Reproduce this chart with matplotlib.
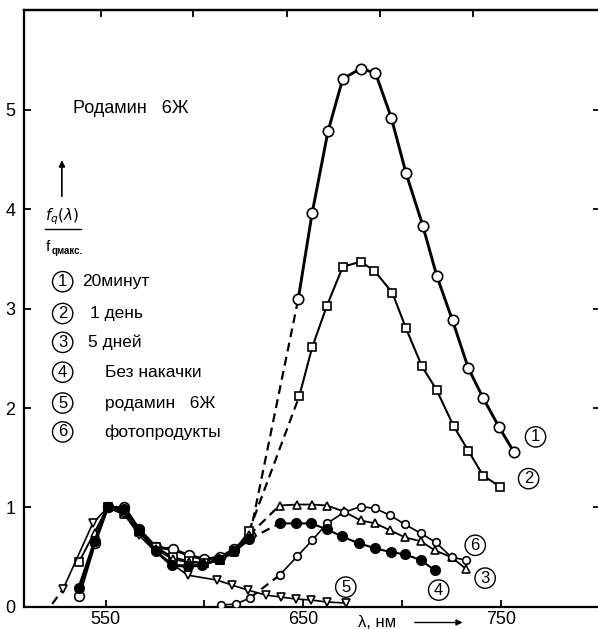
import matplotlib
matplotlib.use('Agg')
import matplotlib.pyplot as plt
from matplotlib.transforms import blended_transform_factory

plt.rcParams['font.family'] = ['Liberation Sans', 'DejaVu Sans']

# 1 - 20 minutes (open circles)
lam1 = [536.5, 544.5, 551, 559.5, 567, 575.5, 584, 592, 600, 608, 615, 623]
f1 = [0.11, 0.64, 1.00, 1.00, 0.78, 0.60, 0.58, 0.52, 0.48, 0.50, 0.58, 0.72]
lam1b = [647.5, 654.5, 662.5, 670, 679, 686.5, 694.5, 702, 710.5, 717.5, 725.5, 733.5, 741, 749, 756.5]
f1b = [3.10, 3.96, 4.78, 5.31, 5.41, 5.37, 4.92, 4.36, 3.83, 3.33, 2.88, 2.40, 2.10, 1.81, 1.56]

# 2 - 1 day (squares)
lam2 = [536.5, 551, 559.5, 567, 575.5, 584, 592, 600, 608, 615, 622.5]
f2 = [0.45, 1.00, 0.95, 0.76, 0.60, 0.50, 0.46, 0.44, 0.47, 0.56, 0.76]
lam2b = [648, 654.5, 662, 670, 679, 686, 695, 702, 710, 717.5, 726, 733.5, 741, 749.5]
f2b = [2.12, 2.61, 3.03, 3.42, 3.47, 3.38, 3.16, 2.80, 2.42, 2.18, 1.82, 1.57, 1.32, 1.21]

# 3 - 5 days (triangles)
lam3 = [544.5, 551, 559.5, 567, 575.5, 584, 592, 600, 608, 615, 622.5]
f3 = [0.74, 1.00, 0.93, 0.75, 0.58, 0.48, 0.45, 0.44, 0.47, 0.55, 0.72]
lam3b = [638, 647, 654.5, 662, 670.5, 679, 686.5, 694, 701.5, 709.5, 716.5, 725, 732.5]
f3b = [1.02, 1.03, 1.03, 1.02, 0.96, 0.87, 0.84, 0.77, 0.70, 0.66, 0.57, 0.50, 0.38]

# 4 - no pumping (filled circles)
lam4 = [536.5, 544.5, 551, 559.5, 567, 575.5, 583.5, 591.5, 599, 607, 615, 622.5]
f4 = [0.19, 0.66, 1.00, 0.98, 0.77, 0.56, 0.42, 0.41, 0.42, 0.48, 0.56, 0.68]
lam4b = [638, 646.5, 654, 662, 669.5, 678, 686.5, 694.5, 701.5, 709.5, 716.5]
f4b = [0.84, 0.84, 0.84, 0.78, 0.71, 0.64, 0.59, 0.55, 0.53, 0.47, 0.37]

# 5 - rhodamine 6G (down triangles)
lam5_start = [523, 528.5]
f5_start = [0.03, 0.18]
lam5 = [528.5, 543.5, 551, 559.5, 567, 575.5, 591.5, 606.5, 614, 622, 631, 638.5, 646.5, 654, 662, 671.5]
f5 = [0.18, 0.84, 1.00, 0.93, 0.72, 0.55, 0.32, 0.27, 0.22, 0.17, 0.12, 0.10, 0.08, 0.07, 0.05, 0.04]

# 6 - photoproducts (small open circles)
lam6 = [608.5, 616, 623]
f6 = [0.02, 0.03, 0.09]
lam6b = [638, 647, 654.5, 662, 670.5, 679, 686.5, 694, 701.5, 709.5, 717, 725, 732.5]
f6b = [0.32, 0.51, 0.67, 0.84, 0.95, 1.01, 0.99, 0.92, 0.83, 0.74, 0.65, 0.50, 0.47]

legend_nums = ['1', '2', '3', '4', '5', '6']
legend_text = ['20минут', '1 день', '5 дней', 'Без накачки', 'родамин   6Ж', 'фотопродукты']

fig = plt.figure(figsize=(5.98, 6.29), dpi=100)
ax = fig.add_axes([0.040, 0.035, 0.963, 0.949])

open_kw = dict(color='k', mfc='white', mec='k', mew=1.2)
dash_kw = dict(color='k', lw=1.6, dashes=(4, 2.5))

# curve 1
ax.plot(lam1, f1, '-o', lw=2.2, ms=7, zorder=3, **open_kw)
ax.plot([lam1[-1], lam1b[0]], [f1[-1], f1b[0]], '--', **dash_kw)
ax.plot(lam1b, f1b, '-o', lw=2.1, ms=7.5, zorder=3, **open_kw)
# curve 2
ax.plot(lam2, f2, '-s', lw=1.4, ms=5.5, zorder=3, **open_kw)
ax.plot([lam2[-1], lam2b[0]], [f2[-1], f2b[0]], '--', **dash_kw)
ax.plot(lam2b, f2b, '-s', lw=1.5, ms=6, zorder=3, **open_kw)
# curve 3
ax.plot(lam3, f3, '-^', lw=1.3, ms=5.5, zorder=3, **open_kw)
ax.plot([lam3[-1], lam3b[0]], [f3[-1], f3b[0]], '--', **dash_kw)
ax.plot(lam3b, f3b, '-^', lw=1.3, ms=5.5, zorder=3, **open_kw)
# curve 4
ax.plot(lam4, f4, '-o', color='k', lw=2.2, ms=7, zorder=4)
ax.plot([lam4[-1], lam4b[0]], [f4[-1], f4b[0]], '--', **dash_kw)
ax.plot(lam4b, f4b, '-o', color='k', lw=1.5, ms=7, zorder=4)
# curve 5
ax.plot(lam5_start, f5_start, '--', **dash_kw)
ax.plot(lam5, f5, '-v', lw=1.2, ms=5.5, zorder=3, **open_kw)
# curve 6
ax.plot(lam6, f6, '-o', lw=1.2, ms=5.5, zorder=3, **open_kw)
ax.plot([lam6[-1], lam6b[0]], [f6[-1], f6b[0]], '--', **dash_kw)
ax.plot(lam6b, f6b, '-o', lw=1.2, ms=5.5, zorder=3, **open_kw)

circ = dict(boxstyle='circle,pad=0.16', fc='none', ec='k', lw=1.0)

# curve labels
for num, x, y in [('1', 767.5, 1.71), ('2', 764, 1.29), ('6', 737, 0.62),
                  ('3', 742, 0.29), ('4', 718.5, 0.17), ('5', 671.5, 0.20)]:
    ax.text(x, y, num, fontsize=12, ha='center', va='center', bbox=circ)

# legend block
leg_y = [3.27, 2.95, 2.66, 2.36, 2.05, 1.76]
leg_x = [538, 542, 541, 549.5, 549.5, 549.5]
for num, txt, y, x in zip(legend_nums, legend_text, leg_y, leg_x):
    ax.text(528.3, y, num, fontsize=12, ha='center', va='center', bbox=circ)
    ax.text(x, y, txt, fontsize=12.5, ha='left', va='center')

ax.text(533.5, 5.01, 'Родамин   6Ж', fontsize=13, ha='left', va='center')

# ordinate label
ax.annotate('', xy=(527.9, 4.52), xytext=(527.9, 4.10),
            arrowprops=dict(arrowstyle='-|>', color='k', lw=1.2, mutation_scale=9))
ax.text(519.5, 3.92, r'$f_q(\lambda)$', fontsize=11, ha='left', va='center')
ax.plot([519.5, 537.5], [3.80, 3.80], color='k', lw=1.0)
ax.text(519.5, 3.62, 'f', fontsize=11, ha='left', va='center')
ax.text(522.5, 3.58, 'qмакс.', fontsize=7, ha='left', va='center', fontweight='bold')

# abscissa label
tr = blended_transform_factory(ax.transData, ax.transAxes)
ax.text(677.5, -0.026, 'λ, нм', fontsize=12, ha='left', va='center', transform=tr)
ax.annotate('', xy=(732, -0.026), xytext=(705, -0.026), xycoords=tr, textcoords=tr,
            arrowprops=dict(arrowstyle='-|>', color='k', lw=1.0, mutation_scale=9),
            annotation_clip=False)

ax.set_xlim(508.7, 800)
ax.set_ylim(0, 6)
ax.set_xticks([550, 600, 650, 700, 750])
ax.set_xticklabels(['550', '', '650', '', '750'])
ax.set_yticks([0, 1, 2, 3, 4, 5])
ax.tick_params(direction='in', length=5, width=1.3, labelsize=13, right=True, top=False)
ax.tick_params(axis='y', pad=6)
ax.tick_params(axis='x', pad=3)
for s in ax.spines.values():
    s.set_linewidth(1.6)

top = ax.secondary_xaxis('top')
top.set_xticks([547.6, 594.2, 641.7, 688.8, 735.8])
top.set_xticklabels([])
top.tick_params(direction='in', length=5, width=1.3)
top.spines['top'].set_linewidth(1.6)

fig.savefig('out.png', dpi=100)
